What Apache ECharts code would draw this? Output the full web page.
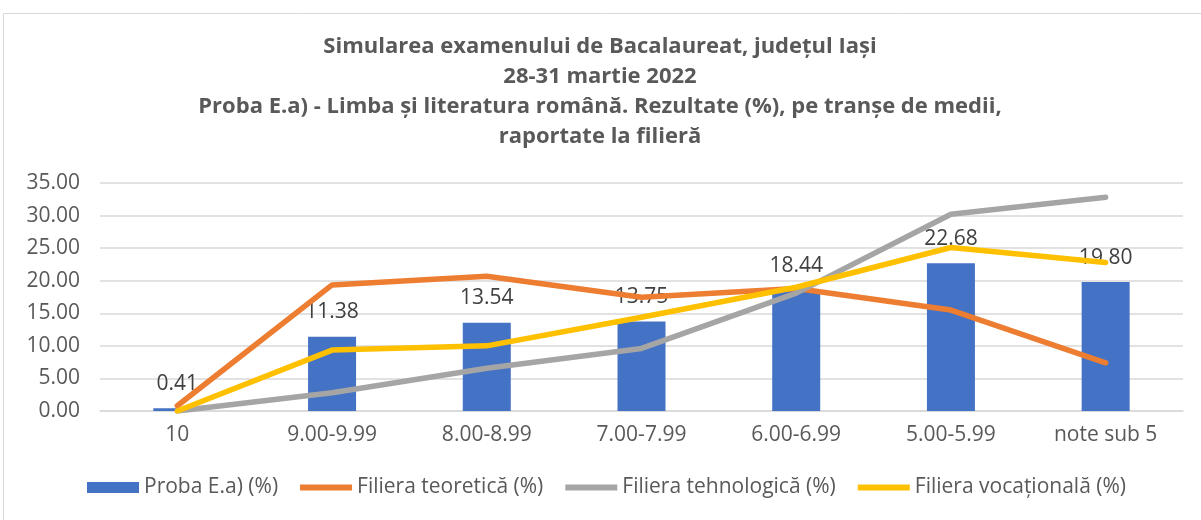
<!DOCTYPE html>
<html>
<head>
<meta charset="utf-8">
<script src="https://cdn.jsdelivr.net/npm/echarts@6/dist/echarts.min.js"></script>
<style>
  html, body { margin: 0; padding: 0; background: #fff; }
  #chart { width: 1201px; height: 520px; }
</style>
</head>
<body>
<div id="chart"></div>
<script>
// categorii (tranșe de medii)
const categories = ['10', '9.00-9.99', '8.00-8.99', '7.00-7.99', '6.00-6.99', '5.00-5.99', 'note sub 5']
// valori
const probaEa = [0.41, 11.38, 13.54, 13.75, 18.44, 22.68, 19.80]
const teoretica = [0.8, 19.35, 20.7, 17.45, 18.8, 15.5, 7.4]
const tehnologica = [0, 2.8, 6.55, 9.6, 18.1, 30.2, 32.8]
const vocationala = [0, 9.35, 10.0, 14.4, 19.0, 25.1, 22.8]
const seriesNames = ['Proba E.a) (%)', 'Filiera teoretică (%)', 'Filiera tehnologică (%)', 'Filiera vocațională (%)']
const yTicks = { min: 0, max: 35, interval: 5 }

const font = '"Open Sans", "DejaVu Sans", sans-serif'
const textColor = '#595959'
// linie subtire in legenda (punctele degenerate tin cutia la 52x11)
const lineIcon = 'path://M0,0L0.01,0L0,0Z M0,2.5L52,2.5L52,8.5L0,8.5Z M0,11L0.01,11L0,11Z M52,0L52.01,0L52,0Z'

const chart = echarts.init(document.getElementById('chart'))

function lineSeries (name, data, color) {
  return {
    name,
    type: 'line',
    data,
    symbol: 'none',
    showSymbol: false,
    z: 3,
    lineStyle: { width: 5.5, color, cap: 'round', join: 'round' },
    itemStyle: { color }
  }
}

const option = {
  animation: false,
  textStyle: { fontFamily: font },
  title: {
    text: 'Simularea examenului de Bacalaureat, județul Iași\n28-31 martie 2022\nProba E.a) - Limba și literatura română. Rezultate (%), pe tranșe de medii,\nraportate la filieră',
    left: 600,
    top: 32,
    padding: 0,
    textAlign: 'center',
    textStyle: {
      fontFamily: font,
      fontSize: 22,
      fontWeight: 'bold',
      color: textColor,
      lineHeight: 30
    }
  },
  graphic: [{
    type: 'rect',
    shape: { x: 3.5, y: 13.5, width: 1300, height: 600 },
    style: { fill: 'none', stroke: '#d9d9d9', lineWidth: 1 },
    silent: true
  }],
  grid: { left: 100, right: 18, top: 183, bottom: 109, containLabel: false },
  legend: {
    bottom: 22,
    left: 87,
    padding: 0,
    itemWidth: 52,
    itemHeight: 11,
    itemGap: 22,
    textStyle: { fontFamily: font, fontSize: 21, color: textColor },
    data: [
      { name: seriesNames[0], icon: 'rect' },
      { name: seriesNames[1], icon: lineIcon },
      { name: seriesNames[2], icon: lineIcon },
      { name: seriesNames[3], icon: lineIcon }
    ]
  },
  xAxis: {
    type: 'category',
    data: categories,
    axisLine: { lineStyle: { color: '#d9d9d9', width: 1.5 } },
    axisTick: { show: false },
    axisLabel: { color: textColor, fontSize: 21, margin: 14, fontFamily: font, interval: 0 }
  },
  yAxis: {
    type: 'value',
    min: yTicks.min,
    max: yTicks.max,
    interval: yTicks.interval,
    axisLine: { show: false },
    axisTick: { show: false },
    splitLine: { lineStyle: { color: '#d9d9d9', width: 1.5 } },
    axisLabel: {
      color: textColor,
      fontSize: 21,
      margin: 20,
      fontFamily: font,
      formatter: v => v.toFixed(2)
    }
  },
  series: [
    {
      name: seriesNames[0],
      type: 'bar',
      data: probaEa,
      barWidth: 48,
      z: 2,
      itemStyle: { color: '#4472C4' },
      label: {
        show: true,
        position: 'top',
        distance: 14,
        fontSize: 21,
        fontFamily: font,
        color: '#404040',
        formatter: p => p.value.toFixed(2)
      }
    },
    lineSeries(seriesNames[1], teoretica, '#ED7D31'),
    lineSeries(seriesNames[2], tehnologica, '#A5A5A5'),
    lineSeries(seriesNames[3], vocationala, '#FFC000')
  ]
}

chart.setOption(option)
</script>
</body>
</html>
